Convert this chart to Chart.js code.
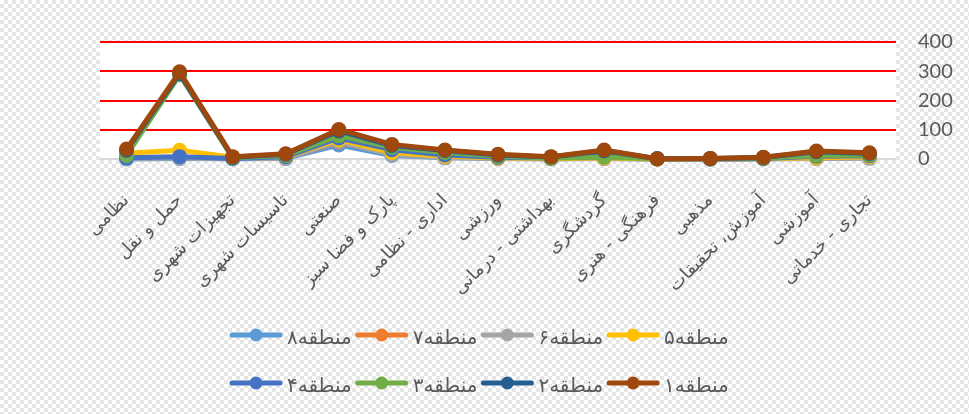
<!DOCTYPE html>
<html>
<head>
<meta charset="utf-8">
<script src="https://cdn.jsdelivr.net/npm/chart.js@4/dist/chart.umd.min.js"></script>
<style>
html,body{margin:0;padding:0;}
body{width:969px;height:414px;overflow:hidden;background-color:#ffffff;
background-image:linear-gradient(45deg,#e6e6e6 25%,transparent 25%,transparent 75%,#e6e6e6 75%),linear-gradient(45deg,#e6e6e6 25%,transparent 25%,transparent 75%,#e6e6e6 75%);
background-size:8px 8px;background-position:0 0,4px 4px;}
#wrap{position:relative;width:969px;height:414px;}
</style>
</head>
<body>
<div id="wrap"><canvas id="c" width="969" height="414"></canvas></div>
<script>
// ---- data ----
const categories = ['نظامی','حمل و نقل','تجهیزات شهری','تاسیسات شهری','صنعتی','پارک و فضا سبز','اداری - نظامی','ورزشی','بهداشتی - درمانی','گردشگری','فرهنگی - هنری','مذهبی','آموزش، تحقیقات','آموزشی','تجاری - خدماتی'];
const seriesNames = ['منطقه۱','منطقه۲','منطقه۳','منطقه۴','منطقه۵','منطقه۶','منطقه۷','منطقه۸'];
const yTicks = [0, 100, 200, 300, 400];
const region1 = [34, 298, 8, 18, 101, 50, 31, 16, 8, 31, 1, 2, 6, 27, 21];
const region2 = [30, 292, 6, 16, 96, 46, 29, 14, 7, 28, 1, 2, 5, 25, 19];
const region3 = [12, 288, 4, 12, 80, 40, 22, 9, 3, 6, 1, 1, 3, 12, 14];
const region4 = [4, 8, 2, 8, 72, 32, 14, 6, 3, 20, 1, 0, 2, 9, 11];
const region5 = [20, 30, 6, 8, 66, 22, 9, 4, 2, 4, 0, 1, 2, 4, 8];
const region6 = [2, 3, 1, 3, 60, 15, 5, 2, 1, 2, 0, 0, 1, 2, 3];
const region7 = [5, 6, 2, 4, 58, 18, 6, 3, 1, 3, 0, 0, 1, 3, 5];
const region8 = [0, 2, 1, 2, 48, 12, 4, 2, 1, 2, 0, 0, 1, 2, 3];
const seriesValues = [region1, region2, region3, region4, region5, region6, region7, region8];

// ---- styles ----
const seriesColors = ['#9E480E','#255E91','#70AD47','#4472C4','#FFC000','#A5A5A5','#ED7D31','#5B9BD5'];
const textColor = '#595959';

const datasets = seriesNames.map((name, i) => ({
  label: name,
  data: seriesValues[i],
  borderColor: seriesColors[i],
  backgroundColor: seriesColors[i],
  pointBackgroundColor: seriesColors[i],
  pointBorderWidth: 0,
  pointRadius: 7.5,
  borderWidth: 5,
  borderJoinStyle: 'round',
  borderCapStyle: 'round',
  tension: 0,
  fill: false,
  clip: false
}));

const plotBg = {
  id: 'plotBg',
  beforeDraw(chart) {
    const a = chart.chartArea, ctx = chart.ctx;
    ctx.save();
    ctx.fillStyle = '#ffffff';
    ctx.fillRect(a.left, a.top, a.right - a.left, a.bottom - a.top);
    ctx.restore();
  }
};

const rowLegend = {
  id: 'rowLegend',
  afterDraw(chart) {
    const ctx = chart.ctx;
    const items = chart.data.datasets.slice().reverse();
    const perRow = 4, colW = 125.7, x0 = 230, y0 = 335, rowH = 48;
    ctx.save();
    ctx.font = '20px "DejaVu Sans"';
    items.forEach((d, i) => {
      const r = Math.floor(i / perRow), c = i % perRow;
      const x = x0 + c * colW, y = y0 + r * rowH;
      ctx.strokeStyle = d.borderColor;
      ctx.lineWidth = 5;
      ctx.lineCap = 'round';
      ctx.beginPath(); ctx.moveTo(x + 2, y); ctx.lineTo(x + 50, y); ctx.stroke();
      ctx.fillStyle = d.borderColor;
      ctx.beginPath(); ctx.arc(x + 26, y, 6.5, 0, Math.PI * 2); ctx.fill();
      ctx.fillStyle = textColor;
      ctx.textAlign = 'left';
      ctx.textBaseline = 'alphabetic';
      ctx.fillText(d.label, x + 57, y + 9);
    });
    ctx.restore();
  }
};

new Chart(document.getElementById('c'), {
  type: 'line',
  data: { labels: categories, datasets },
  options: {
    responsive: false,
    animation: false,
    events: [],
    layout: { padding: { left: 100, top: 42, right: 0, bottom: 0 } },
    plugins: { legend: { display: false }, tooltip: { enabled: false } },
    scales: {
      x: {
        offset: true,
        grid: { display: false, drawTicks: false },
        border: { display: false },
        ticks: { autoSkip: false, maxRotation: 45, minRotation: 45, padding: 31, color: textColor, font: { family: 'DejaVu Sans', size: 18 } },
        afterFit(s) { s.height = 255; }
      },
      y: {
        position: 'right',
        min: 0, max: 400,
        afterBuildTicks(s) { s.ticks = yTicks.map(v => ({ value: v })); },
        ticks: { padding: 22, color: textColor, font: { family: 'Lato', size: 20 } },
        grid: { color: c => (c.tick && c.tick.value === 0) ? '#d9d9d9' : '#ff0000', lineWidth: 2, drawTicks: false },
        border: { display: false },
        afterFit(s) { s.width = 73; }
      }
    }
  },
  plugins: [plotBg, rowLegend]
});
</script>
</body>
</html>
